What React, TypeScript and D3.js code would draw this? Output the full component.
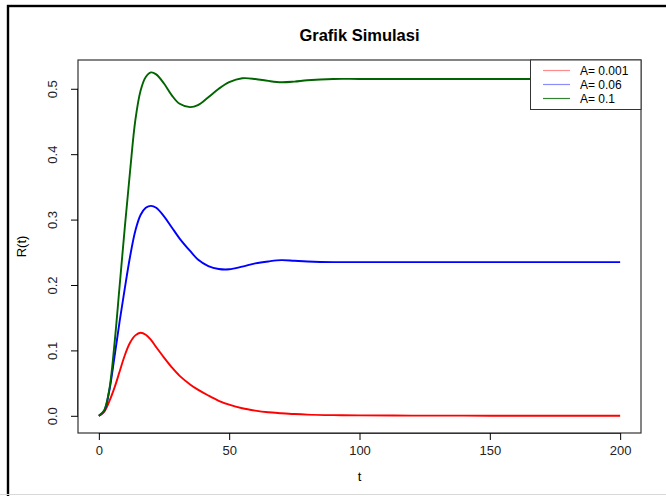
import React, {useRef, useEffect} from 'react';
import * as d3 from 'd3';

const config = {
    w: 666,
    h: 496,
    left: 78,
    right: 641,
    top: 60,
    bottom: 433
};

// time points
const tVals = [0, 2, 4, 6, 8, 10, 12, 14, 16, 18, 20, 22, 25, 28, 31, 35, 38, 42, 46, 50, 55, 60, 65, 70, 75, 80, 90, 100, 120, 140, 160, 180, 200];

const seriesNames = ['A= 0.001', 'A= 0.06', 'A= 0.1'];
const seriesColors = ['#ff0000', '#0000ff', '#006400'];

const redVals = [0, 0.006, 0.022, 0.043, 0.068, 0.093, 0.112, 0.123, 0.127, 0.124, 0.116, 0.105, 0.089, 0.074, 0.061, 0.048, 0.040, 0.031, 0.023, 0.017, 0.0115, 0.008, 0.0055, 0.004, 0.0027, 0.0018, 0.001, 0.0006, 0.0003, 0.0002, 0.0001, 0.0001, 0];
const blueVals = [0, 0.007, 0.038, 0.09, 0.145, 0.196, 0.244, 0.283, 0.307, 0.318, 0.321, 0.318, 0.305, 0.288, 0.271, 0.252, 0.239, 0.229, 0.2245, 0.224, 0.228, 0.233, 0.236, 0.238, 0.237, 0.236, 0.235, 0.235, 0.235, 0.235, 0.235, 0.235, 0.235];
const greenVals = [0, 0.008, 0.040, 0.11, 0.20, 0.29, 0.375, 0.452, 0.497, 0.518, 0.525, 0.522, 0.508, 0.490, 0.477, 0.472, 0.475, 0.487, 0.500, 0.510, 0.516, 0.515, 0.512, 0.510, 0.511, 0.513, 0.515, 0.515, 0.515, 0.515, 0.515, 0.515, 0.515];

const xTicks = [0, 50, 100, 150, 200];
const yTicks = [0, 0.1, 0.2, 0.3, 0.4, 0.5];

const font = '"Liberation Sans", Arial, sans-serif';

const App = () => {
    const svgRef = useRef(null);

    useEffect(() => {
        const svg = d3.select(svgRef.current)
            .attr('width', config.w)
            .attr('height', config.h);
        svg.selectAll('*').remove();

        // R style 4% padding on both axes
        const xScale = d3.scaleLinear().domain([-8, 208]).range([config.left, config.right]);
        const yScale = d3.scaleLinear().domain([-0.0263, 0.544]).range([config.bottom, config.top]);

        // outer frame (screenshot border)
        svg.append('rect').attr('x', 8).attr('y', 6).attr('width', 700).attr('height', 520)
            .attr('fill', 'none').attr('stroke', '#000').attr('stroke-width', 2.4);
        svg.append('line').attr('x1', 0).attr('x2', config.w).attr('y1', 494.5).attr('y2', 494.5)
            .attr('stroke', '#d8d8d8').attr('stroke-width', 1);

        // title
        svg.append('text')
            .attr('x', (config.left + config.right) / 2)
            .attr('y', 41)
            .attr('text-anchor', 'middle')
            .style('font-family', font)
            .style('font-weight', 'bold')
            .style('font-size', '16.5px')
            .text('Grafik Simulasi');

        // lines
        const allVals = [redVals, blueVals, greenVals];
        const line = d3.line()
            .x(d => xScale(d[0]))
            .y(d => yScale(d[1]))
            .curve(d3.curveCatmullRom.alpha(0.5));
        allVals.forEach((vals, i) => {
            svg.append('path')
                .datum(tVals.map((t, j) => [t, vals[j]]))
                .attr('d', line)
                .attr('fill', 'none')
                .attr('stroke', seriesColors[i])
                .attr('stroke-width', 1.9);
        });

        // box
        svg.append('rect')
            .attr('x', config.left).attr('y', config.top)
            .attr('width', config.right - config.left).attr('height', config.bottom - config.top)
            .attr('fill', 'none').attr('stroke', '#333').attr('stroke-width', 1.2);

        // x axis
        const xAxis = svg.append('g').attr('transform', `translate(0,${config.bottom})`)
            .call(d3.axisBottom(xScale).tickValues(xTicks).tickSize(7).tickPadding(6).tickFormat(d3.format('d')));
        xAxis.select('.domain')
            .attr('d', `M${xScale(0)},0.5H${xScale(200)}`)
            .attr('stroke', '#333');
        xAxis.selectAll('text').style('font-family', font).style('font-size', '13px').attr('fill', '#222');

        // y axis
        const yAxis = svg.append('g').attr('transform', `translate(${config.left},0)`)
            .call(d3.axisLeft(yScale).tickValues(yTicks).tickSize(7).tickFormat(d3.format('.1f')));
        yAxis.select('.domain')
            .attr('d', `M-0.5,${yScale(0)}V${yScale(0.5)}`)
            .attr('stroke', '#333');
        yAxis.selectAll('text')
            .attr('x', null).attr('dy', null)
            .attr('transform', 'translate(-21,0) rotate(-90)')
            .attr('text-anchor', 'middle')
            .style('font-family', font).style('font-size', '13px').attr('fill', '#222');

        // axis titles
        svg.append('text')
            .attr('x', (config.left + config.right) / 2).attr('y', 481)
            .attr('text-anchor', 'middle')
            .style('font-family', font).style('font-size', '13px')
            .text('t');
        svg.append('text')
            .attr('transform', `translate(26,${(config.top + config.bottom) / 2}) rotate(-90)`)
            .attr('text-anchor', 'middle')
            .style('font-family', font).style('font-size', '13px')
            .text('R(t)');

        // legend
        const lg = svg.append('g');
        lg.append('rect').attr('x', 530.5).attr('y', config.top).attr('width', config.right - 530.5).attr('height', 49.5)
            .attr('fill', '#fff').attr('stroke', '#333').attr('stroke-width', 1);
        seriesNames.forEach((name, i) => {
            const y = 70.5 + i * 14;
            lg.append('line').attr('x1', 543).attr('x2', 570).attr('y1', y).attr('y2', y)
                .attr('stroke', seriesColors[i]).attr('stroke-opacity', i == 2 ? 0.8 : 0.45).attr('stroke-width', 1.2);
            lg.append('text').attr('x', 580).attr('y', y + 4.3)
                .style('font-family', font).style('font-size', '12px')
                .text(name);
        });
    }, []);

    return (
        <div style={{position: 'absolute', left: 0, top: 0}}>
            <svg ref={svgRef} style={{display: 'block'}}></svg>
        </div>
    );
};

export default App;
